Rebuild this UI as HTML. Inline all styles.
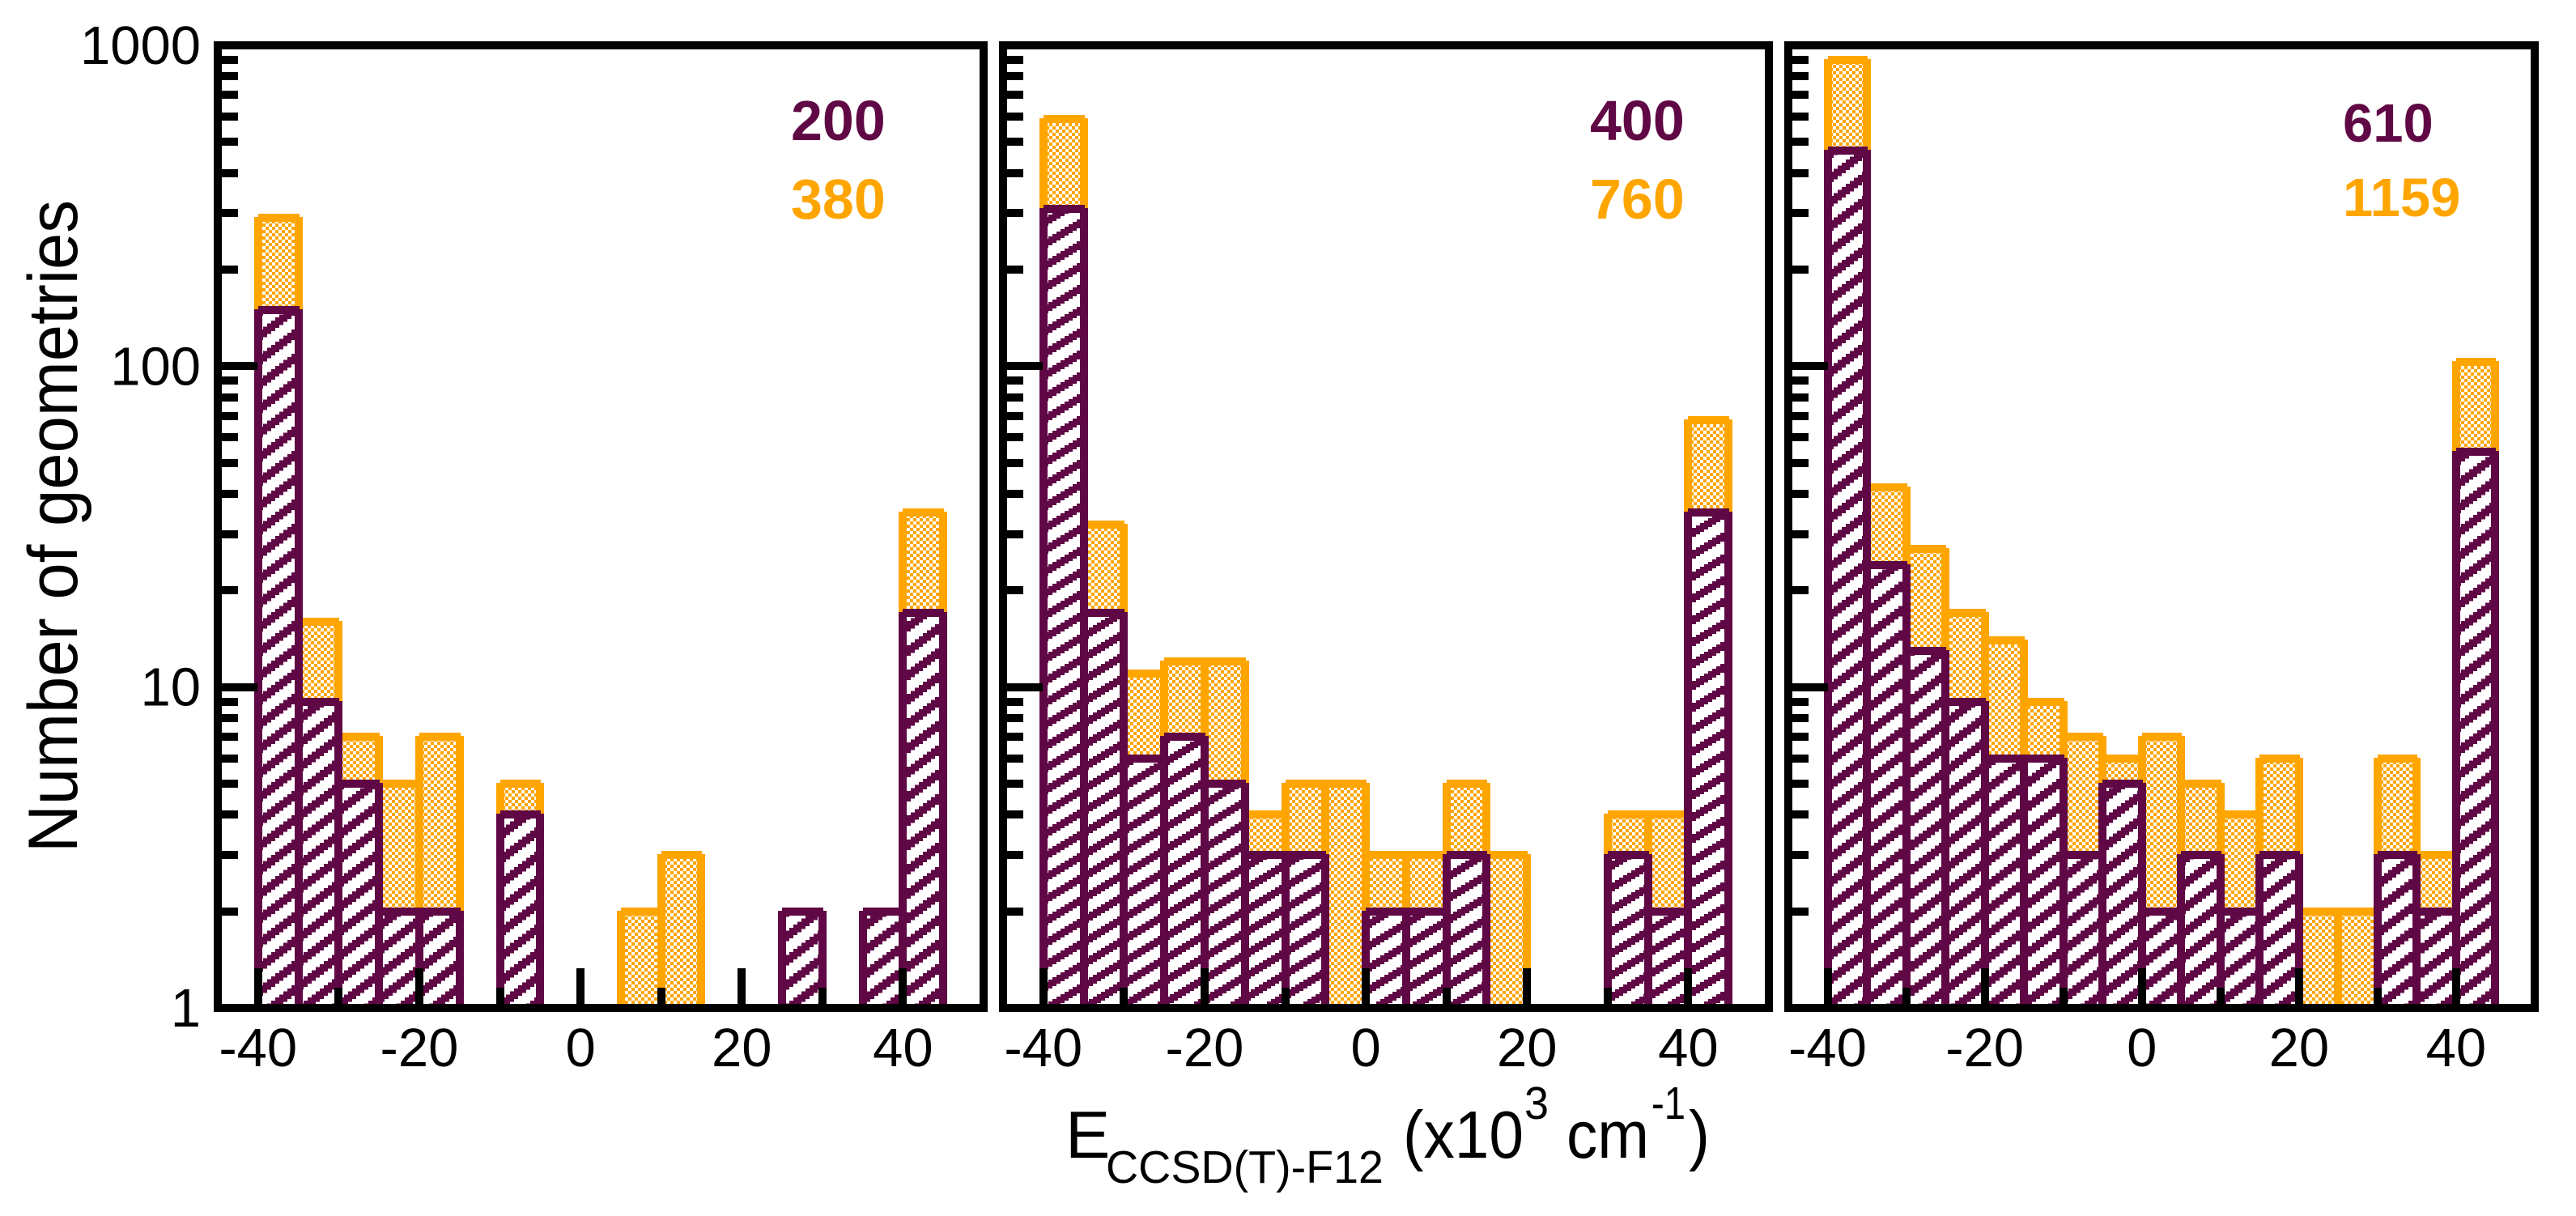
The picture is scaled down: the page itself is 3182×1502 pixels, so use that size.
<!DOCTYPE html>
<html lang="en">
<head>
<meta charset="utf-8">
<title>Histogram of CCSD(T)-F12 energies</title>
<style>
  html, body { margin: 0; padding: 0; background: #fff; }
  svg { display: block; }
  text { font-family: "Liberation Sans", sans-serif; fill: #000; }
  .count { font-weight: bold; font-size: 67px; }
  .count-large { font-size: 70px; }
  .purple { fill: #600845; }
  .orange { fill: #ffa500; }
</style>
</head>
<body>
<svg id="chart" xmlns="http://www.w3.org/2000/svg" width="3182" height="1502" viewBox="0 0 3182 1502">
  <rect x="0" y="0" width="3182" height="1502" fill="#ffffff"/>
  <defs id="defs"></defs>
  <g id="panels"></g>

  <text transform="translate(95 1053) rotate(-90)" font-size="86" textLength="806" lengthAdjust="spacingAndGlyphs">Number of geometries</text>

  <g>
    <text x="1316" y="1430" font-size="83">E</text>
    <text x="1366" y="1461" font-size="57" textLength="343" lengthAdjust="spacingAndGlyphs">CCSD(T)-F12</text>
    <text x="1733" y="1430" font-size="83" textLength="149" lengthAdjust="spacingAndGlyphs">(x10</text>
    <text x="1883" y="1382" font-size="57" textLength="30" lengthAdjust="spacingAndGlyphs">3</text>
    <text x="1935" y="1430" font-size="83" textLength="102" lengthAdjust="spacingAndGlyphs">cm</text>
    <text x="2040" y="1382" font-size="57" textLength="42" lengthAdjust="spacingAndGlyphs">-1</text>
    <text x="2086" y="1430" font-size="83" textLength="26" lengthAdjust="spacingAndGlyphs">)</text>
  </g>

  <text class="count count-large purple" x="977" y="173">200</text>
  <text class="count count-large orange" x="977" y="270">380</text>
  <text class="count count-large purple" x="1964" y="173">400</text>
  <text class="count count-large orange" x="1964" y="270">760</text>
  <text class="count purple" x="2894" y="175">610</text>
  <text class="count orange" x="2894" y="267">1159</text>
</svg>

<script>
// ---- Chart data ----
const binStarts = [-40, -35, -30, -25, -20, -15, -10, -5, 0, 5, 10, 15, 20, 25, 30, 35, 40];
const panel1Orange = [290, 16, 7, 5, 7, 0, 5, 0, 0, 2, 3, 0, 0, 2, 0, 2, 35];
const panel1Purple = [150, 9, 5, 2, 2, 0, 4, 0, 0, 0, 0, 0, 0, 2, 0, 2, 17];
const panel2Orange = [590, 32, 11, 12, 12, 4, 5, 5, 3, 3, 5, 3, 0, 0, 4, 4, 68];
const panel2Purple = [310, 17, 6, 7, 5, 3, 3, 0, 2, 2, 3, 0, 0, 0, 3, 2, 35];
const panel3Orange = [900, 42, 27, 17, 14, 9, 7, 6, 7, 5, 4, 6, 2, 2, 6, 3, 103];
const panel3Purple = [470, 24, 13, 9, 6, 6, 3, 5, 2, 3, 2, 3, 0, 0, 3, 2, 54];
const xMajorTicks = [-40, -20, 0, 20, 40];
const xMinorTicks = [-30, -10, 10, 30];
const yMajorTicks = [1, 10, 100, 1000];
const yMinorTicks = [2, 3, 4, 5, 6, 7, 8, 9, 20, 30, 40, 50, 60, 70, 80, 90, 200, 300, 400, 500, 600, 700, 800, 900];

// ---- Layout constants ----
const NS = 'http://www.w3.org/2000/svg';
const X_MIN = -45, X_MAX = 50, BIN_WIDTH = 5;
const Y_TOP = 56, Y_BOTTOM = 1245, Y_DECADES = 3;
const PURPLE = '#600845', ORANGE = '#ffa500';
const BINNED_BASE = 1241;

function yScale(v) {
  return Y_BOTTOM - (Y_BOTTOM - Y_TOP) * Math.log10(v) / Y_DECADES;
}
function makeXScale(left, right) {
  return function (v) { return left + (right - left) * (v - X_MIN) / (X_MAX - X_MIN); };
}
function mk(tag, attrs, parent) {
  const el = document.createElementNS(NS, tag);
  for (const k in attrs) el.setAttribute(k, attrs[k]);
  parent.appendChild(el);
  return el;
}

// ---- Fill patterns ----
const defs = document.getElementById('defs');

const checker = mk('pattern', { id: 'checker', patternUnits: 'userSpaceOnUse', width: 8, height: 8 }, defs);
mk('rect', { x: 0, y: 0, width: 8, height: 8, fill: '#ffffff' }, checker);
mk('rect', { x: 0, y: 0, width: 4, height: 4, fill: ORANGE, 'shape-rendering': 'crispEdges' }, checker);
mk('rect', { x: 4, y: 4, width: 4, height: 4, fill: ORANGE, 'shape-rendering': 'crispEdges' }, checker);

function makeHatch(id, w, h, thick) {
  const p = mk('pattern', { id: id, patternUnits: 'userSpaceOnUse', width: w, height: h }, defs);
  mk('rect', { x: 0, y: 0, width: w, height: h, fill: '#ffffff' }, p);
  const stepX = 5;
  const cols = Math.round(w / stepX);
  for (let c = 0; c < cols; c++) {
    const y0 = h - (c * h) / cols - thick;
    for (const off of [-h, 0, h]) {
      mk('rect', { x: c * stepX, y: y0 + off, width: stepX, height: thick, fill: PURPLE, 'shape-rendering': 'crispEdges' }, p);
    }
  }
}
makeHatch('hatch-1', 40, 30, 13);
makeHatch('hatch-2', 45, 27, 11);
makeHatch('hatch-3', 40, 30, 13);

// ---- Drawing ----
function drawBars(parent, xs, values, color, fillId, seriesName) {
  values.forEach(function (v, i) {
    if (v <= 0) return;
    const x0 = Math.round(xs(binStarts[i]));
    const x1 = Math.round(xs(binStarts[i] + BIN_WIDTH));
    const yT = Math.round(yScale(v));
    const bar = mk('g', {}, parent);
    
    
    mk('rect', { x: x0, y: yT, width: x1 - x0, height: BINNED_BASE - yT, fill: 'url(#' + fillId + ')', 'shape-rendering': 'crispEdges' }, bar);
    const d = 'M' + x0 + ' ' + (yT - 1) + 'V' + BINNED_BASE +
              'M' + x1 + ' ' + (yT - 1) + 'V' + BINNED_BASE +
              'M' + x0 + ' ' + yT + 'H' + (x1 + 1);
    mk('path', { d: d, fill: 'none', stroke: color, 'stroke-width': 10, 'stroke-linecap': 'butt', 'shape-rendering': 'crispEdges' }, bar);
  });
}

function drawPanel(index, left, right, orange, purple, showYLabels) {
  const xs = makeXScale(left, right);
  const root = document.getElementById('panels');
  const panel = mk('g', {}, root);
  
  

  const orangeGroup = mk('g', {}, panel);
  
  
  drawBars(orangeGroup, xs, orange, ORANGE, 'checker', 'orange');

  const purpleGroup = mk('g', {}, panel);
  
  
  drawBars(purpleGroup, xs, purple, PURPLE, 'hatch-' + index, 'purple');

  const ticks = mk('g', { fill: '#000', 'shape-rendering': 'crispEdges' }, panel);
  
  

  xMajorTicks.forEach(function (t) {
    const r = mk('rect', { x: Math.round(xs(t)) - 5, y: Y_BOTTOM - 49, width: 10, height: 49 }, ticks);
    
    
  });
  xMinorTicks.forEach(function (t) {
    const r = mk('rect', { x: Math.round(xs(t)) - 5, y: Y_BOTTOM - 25, width: 10, height: 25 }, ticks);
    
    
  });
  yMajorTicks.forEach(function (t) {
    const r = mk('rect', { x: left, y: Math.round(yScale(t)) - 5, width: 49, height: 10 }, ticks);
    
    
  });
  yMinorTicks.forEach(function (t) {
    const r = mk('rect', { x: left, y: Math.round(yScale(t)) - 5, width: 25, height: 10 }, ticks);
    
    
  });

  const frame = mk('rect', { x: left, y: Y_TOP, width: right - left, height: Y_BOTTOM - Y_TOP, fill: 'none', stroke: '#000', 'stroke-width': 10, 'stroke-linejoin': 'miter', 'shape-rendering': 'crispEdges' }, panel);
  
  

  xMajorTicks.forEach(function (t) {
    const label = mk('text', { x: xs(t), y: 1317, 'font-size': 67, 'text-anchor': 'middle' }, panel);
    label.textContent = String(t);
    
    
  });
  if (showYLabels) {
    yMajorTicks.forEach(function (t) {
      const label = mk('text', { x: 248, y: yScale(t) + 23, 'font-size': 67, 'text-anchor': 'end' }, panel);
      label.textContent = String(t);
      
      
    });
  }
}

drawPanel(1, 269, 1215, panel1Orange, panel1Purple, true);
drawPanel(2, 1239, 2185, panel2Orange, panel2Purple, false);
drawPanel(3, 2209, 3131, panel3Orange, panel3Purple, false);
</script>
</body>
</html>
